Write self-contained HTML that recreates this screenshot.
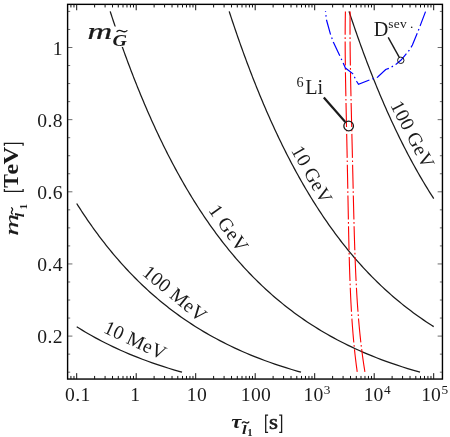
<!DOCTYPE html>
<html><head><meta charset="utf-8"><title>chart</title>
<style>html,body{margin:0;padding:0;background:#fff}body{width:450px;height:437px;overflow:hidden;font-family:"Liberation Serif",serif;position:relative}svg{position:absolute;left:0;top:0;will-change:transform}</style>
</head><body>
<svg width="450" height="437" viewBox="0 0 450 437" style="display:block;font-family:'Liberation Serif',serif">
<rect x="0" y="0" width="450" height="437" fill="#fff"/>
<path id="c10M" d="M76.71,326.76 L79.60,328.56 L82.56,330.36 L85.59,332.17 L88.69,333.97 L91.86,335.78 L95.12,337.58 L98.46,339.38 L101.89,341.19 L105.41,342.99 L109.03,344.79 L112.76,346.60 L116.60,348.40 L120.55,350.21 L124.63,352.01 L128.84,353.81 L133.19,355.62 L137.70,357.42 L142.37,359.22 L147.21,361.03 L152.24,362.83 L157.48,364.64 L162.94,366.44 L168.63,368.24 L174.59,370.05 L180.84,371.85 L182.00,372.18" fill="none" stroke="#1a1a1a" stroke-width="1.25"/>
<path id="c100M" d="M76.71,203.54 L77.85,205.35 L79.00,207.15 L80.17,208.95 L81.34,210.76 L82.53,212.56 L83.72,214.36 L84.93,216.17 L86.15,217.97 L87.38,219.78 L88.62,221.58 L89.88,223.38 L91.15,225.19 L92.42,226.99 L93.72,228.79 L95.02,230.60 L96.34,232.40 L97.67,234.21 L99.02,236.01 L100.38,237.81 L101.75,239.62 L103.14,241.42 L104.55,243.22 L105.97,245.03 L107.40,246.83 L108.86,248.64 L110.32,250.44 L111.81,252.24 L113.31,254.05 L114.83,255.85 L116.37,257.65 L117.93,259.46 L119.50,261.26 L121.10,263.07 L122.71,264.87 L124.35,266.67 L126.01,268.48 L127.68,270.28 L129.38,272.08 L131.11,273.89 L132.85,275.69 L134.62,277.50 L136.42,279.30 L138.24,281.10 L140.08,282.91 L141.96,284.71 L143.86,286.51 L145.79,288.32 L147.74,290.12 L149.73,291.93 L151.75,293.73 L153.80,295.53 L155.89,297.34 L158.01,299.14 L160.16,300.94 L162.35,302.75 L164.58,304.55 L166.84,306.36 L169.15,308.16 L171.50,309.96 L173.90,311.77 L176.33,313.57 L178.82,315.37 L181.35,317.18 L183.94,318.98 L186.57,320.79 L189.27,322.59 L192.02,324.39 L194.83,326.20 L197.70,328.00 L200.64,329.80 L203.64,331.61 L206.72,333.41 L209.87,335.22 L213.10,337.02 L216.42,338.82 L219.82,340.63 L223.31,342.43 L226.90,344.23 L230.59,346.04 L234.39,347.84 L238.31,349.65 L242.35,351.45 L246.52,353.25 L250.83,355.06 L255.29,356.86 L259.90,358.66 L264.69,360.47 L269.66,362.27 L274.83,364.08 L280.22,365.88 L285.84,367.68 L291.72,369.49 L297.87,371.29 L301.00,372.18" fill="none" stroke="#1a1a1a" stroke-width="1.25"/>
<path id="c1G" d="M110.19,11.42 L110.77,13.23 L111.37,15.03 L111.96,16.84 L112.56,18.64 L113.16,20.44 L113.76,22.25 L114.36,24.05 L114.97,25.85 L115.58,27.66 L116.20,29.46 L116.81,31.27 L117.43,33.07 L118.06,34.87 L118.68,36.68 L119.31,38.48 L119.94,40.28 L120.58,42.09 L121.21,43.89 L121.86,45.70 L122.50,47.50 L123.15,49.30 L123.80,51.11 L124.45,52.91 L125.11,54.71 L125.77,56.52 L126.44,58.32 L127.10,60.13 L127.77,61.93 L128.45,63.73 L129.13,65.54 L129.81,67.34 L130.49,69.14 L131.18,70.95 L131.88,72.75 L132.57,74.56 L133.27,76.36 L133.98,78.16 L134.69,79.97 L135.40,81.77 L136.11,83.57 L136.83,85.38 L137.56,87.18 L138.28,88.99 L139.02,90.79 L139.75,92.59 L140.49,94.40 L141.24,96.20 L141.99,98.00 L142.74,99.81 L143.50,101.61 L144.26,103.42 L145.03,105.22 L145.80,107.02 L146.57,108.83 L147.36,110.63 L148.14,112.43 L148.93,114.24 L149.73,116.04 L150.53,117.85 L151.33,119.65 L152.14,121.45 L152.96,123.26 L153.78,125.06 L154.60,126.86 L155.43,128.67 L156.27,130.47 L157.11,132.28 L157.96,134.08 L158.81,135.88 L159.67,137.69 L160.53,139.49 L161.40,141.30 L162.28,143.10 L163.16,144.90 L164.05,146.71 L164.94,148.51 L165.84,150.31 L166.75,152.12 L167.66,153.92 L168.58,155.72 L169.51,157.53 L170.44,159.33 L171.38,161.14 L172.33,162.94 L173.28,164.74 L174.24,166.55 L175.21,168.35 L176.19,170.15 L177.17,171.96 L178.16,173.76 L179.16,175.57 L180.16,177.37 L181.17,179.17 L182.20,180.98 L183.23,182.78 L184.26,184.58 L185.31,186.39 L186.36,188.19 L187.43,190.00 L188.50,191.80 L189.58,193.60 L190.67,195.41 L191.77,197.21 L192.88,199.01 L194.00,200.82 L195.13,202.62 L196.27,204.43 L197.41,206.23 L198.57,208.03 L199.74,209.84 L200.92,211.64 L202.11,213.44 L203.32,215.25 L204.53,217.05 L205.75,218.86 L206.99,220.66 L208.24,222.46 L209.50,224.27 L210.77,226.07 L212.06,227.87 L213.36,229.68 L214.67,231.48 L215.99,233.29 L217.33,235.09 L218.68,236.89 L220.05,238.70 L221.43,240.50 L222.83,242.30 L224.24,244.11 L225.67,245.91 L227.11,247.72 L228.57,249.52 L230.05,251.32 L231.54,253.13 L233.05,254.93 L234.58,256.74 L236.13,258.54 L237.70,260.34 L239.28,262.15 L240.89,263.95 L242.51,265.75 L244.16,267.56 L245.83,269.36 L247.52,271.16 L249.23,272.97 L250.96,274.77 L252.72,276.58 L254.50,278.38 L256.31,280.18 L258.14,281.99 L260.00,283.79 L261.89,285.59 L263.80,287.40 L265.74,289.20 L267.72,291.01 L269.72,292.81 L271.75,294.61 L273.82,296.42 L275.92,298.22 L278.06,300.02 L280.23,301.83 L282.44,303.63 L284.68,305.44 L286.97,307.24 L289.30,309.04 L291.67,310.85 L294.09,312.65 L296.55,314.45 L299.06,316.26 L301.61,318.06 L304.22,319.87 L306.89,321.67 L309.61,323.47 L312.39,325.28 L315.23,327.08 L318.13,328.88 L321.10,330.69 L324.14,332.49 L327.26,334.30 L330.45,336.10 L333.72,337.90 L337.07,339.71 L340.52,341.51 L344.06,343.31 L347.70,345.12 L351.44,346.92 L355.30,348.73 L359.28,350.53 L363.38,352.33 L367.62,354.14 L372.00,355.94 L376.53,357.75 L381.23,359.55 L386.11,361.35 L391.18,363.16 L396.45,364.96 L401.95,366.76 L407.69,368.57 L413.71,370.37 L420.01,372.18" fill="none" stroke="#1a1a1a" stroke-width="1.25"/>
<path id="c10G" d="M229.19,11.42 L229.78,13.23 L230.37,15.03 L230.97,16.84 L231.57,18.64 L232.16,20.44 L232.77,22.25 L233.37,24.05 L233.98,25.85 L234.59,27.66 L235.21,29.46 L235.82,31.27 L236.44,33.07 L237.06,34.87 L237.69,36.68 L238.32,38.48 L238.95,40.28 L239.59,42.09 L240.22,43.89 L240.87,45.70 L241.51,47.50 L242.16,49.30 L242.81,51.11 L243.46,52.91 L244.12,54.71 L244.78,56.52 L245.45,58.32 L246.11,60.13 L246.79,61.93 L247.46,63.73 L248.14,65.54 L248.82,67.34 L249.51,69.14 L250.20,70.95 L250.89,72.75 L251.58,74.56 L252.29,76.36 L252.99,78.16 L253.70,79.97 L254.41,81.77 L255.13,83.57 L255.85,85.38 L256.57,87.18 L257.30,88.99 L258.03,90.79 L258.77,92.59 L259.51,94.40 L260.25,96.20 L261.00,98.00 L261.75,99.81 L262.51,101.61 L263.27,103.42 L264.04,105.22 L264.81,107.02 L265.59,108.83 L266.37,110.63 L267.16,112.43 L267.95,114.24 L268.74,116.04 L269.54,117.85 L270.35,119.65 L271.16,121.45 L271.97,123.26 L272.79,125.06 L273.62,126.86 L274.45,128.67 L275.29,130.47 L276.13,132.28 L276.98,134.08 L277.83,135.88 L278.69,137.69 L279.55,139.49 L280.42,141.30 L281.30,143.10 L282.18,144.90 L283.07,146.71 L283.96,148.51 L284.86,150.31 L285.77,152.12 L286.68,153.92 L287.60,155.72 L288.53,157.53 L289.46,159.33 L290.40,161.14 L291.35,162.94 L292.30,164.74 L293.27,166.55 L294.23,168.35 L295.21,170.15 L296.19,171.96 L297.18,173.76 L298.18,175.57 L299.19,177.37 L300.20,179.17 L301.22,180.98 L302.25,182.78 L303.29,184.58 L304.34,186.39 L305.39,188.19 L306.46,190.00 L307.53,191.80 L308.61,193.60 L309.70,195.41 L310.80,197.21 L311.91,199.01 L313.03,200.82 L314.16,202.62 L315.30,204.43 L316.45,206.23 L317.61,208.03 L318.78,209.84 L319.96,211.64 L321.15,213.44 L322.35,215.25 L323.56,217.05 L324.79,218.86 L326.03,220.66 L327.28,222.46 L328.54,224.27 L329.81,226.07 L331.10,227.87 L332.40,229.68 L333.71,231.48 L335.04,233.29 L336.38,235.09 L337.73,236.89 L339.10,238.70 L340.48,240.50 L341.88,242.30 L343.29,244.11 L344.72,245.91 L346.17,247.72 L347.63,249.52 L349.10,251.32 L350.60,253.13 L352.11,254.93 L353.64,256.74 L355.19,258.54 L356.76,260.34 L358.35,262.15 L359.95,263.95 L361.58,265.75 L363.23,267.56 L364.90,269.36 L366.59,271.16 L368.30,272.97 L370.04,274.77 L371.80,276.58 L373.58,278.38 L375.39,280.18 L377.22,281.99 L379.09,283.79 L380.97,285.59 L382.89,287.40 L384.84,289.20 L386.81,291.01 L388.82,292.81 L390.86,294.61 L392.93,296.42 L395.03,298.22 L397.17,300.02 L399.35,301.83 L401.56,303.63 L403.81,305.44 L406.10,307.24 L408.44,309.04 L410.81,310.85 L413.23,312.65 L415.70,314.45 L418.21,316.26 L420.78,318.06 L423.40,319.87 L426.07,321.67 L428.79,323.47 L431.58,325.28 L433.68,326.61" fill="none" stroke="#1a1a1a" stroke-width="1.25"/>
<path id="c100G" d="M349.04,11.42 L349.64,13.23 L350.24,15.03 L350.84,16.84 L351.45,18.64 L352.05,20.44 L352.67,22.25 L353.28,24.05 L353.90,25.85 L354.52,27.66 L355.14,29.46 L355.76,31.27 L356.39,33.07 L357.02,34.87 L357.66,36.68 L358.30,38.48 L358.94,40.28 L359.58,42.09 L360.23,43.89 L360.88,45.70 L361.54,47.50 L362.20,49.30 L362.86,51.11 L363.52,52.91 L364.19,54.71 L364.86,56.52 L365.54,58.32 L366.22,60.13 L366.90,61.93 L367.59,63.73 L368.28,65.54 L368.97,67.34 L369.67,69.14 L370.37,70.95 L371.08,72.75 L371.79,74.56 L372.50,76.36 L373.22,78.16 L373.94,79.97 L374.67,81.77 L375.40,83.57 L376.13,85.38 L376.87,87.18 L377.61,88.99 L378.36,90.79 L379.11,92.59 L379.87,94.40 L380.63,96.20 L381.39,98.00 L382.16,99.81 L382.94,101.61 L383.72,103.42 L384.50,105.22 L385.29,107.02 L386.09,108.83 L386.88,110.63 L387.69,112.43 L388.50,114.24 L389.31,116.04 L390.13,117.85 L390.96,119.65 L391.79,121.45 L392.63,123.26 L393.47,125.06 L394.31,126.86 L395.17,128.67 L396.03,130.47 L396.89,132.28 L397.76,134.08 L398.64,135.88 L399.52,137.69 L400.41,139.49 L401.31,141.30 L402.21,143.10 L403.12,144.90 L404.03,146.71 L404.96,148.51 L405.89,150.31 L406.82,152.12 L407.76,153.92 L408.71,155.72 L409.67,157.53 L410.64,159.33 L411.61,161.14 L412.59,162.94 L413.58,164.74 L414.57,166.55 L415.57,168.35 L416.59,170.15 L417.61,171.96 L418.63,173.76 L419.67,175.57 L420.72,177.37 L421.77,179.17 L422.83,180.98 L423.91,182.78 L424.99,184.58 L426.08,186.39 L427.18,188.19 L428.29,190.00 L429.41,191.80 L430.54,193.60 L431.68,195.41 L432.84,197.21 L433.70,198.55" fill="none" stroke="#1a1a1a" stroke-width="1.25"/>
<rect x="86" y="26.5" width="43" height="20.4" fill="#fff"/>
<path d="M345.41,11.40 L345.38,13.21 L345.34,15.02 L345.31,16.83 L345.29,18.64 L345.26,20.46 L345.24,22.27 L345.22,24.08 L345.21,25.89 L345.19,27.70 L345.18,29.51 L345.17,31.32 L345.16,33.13 L345.16,34.94 L345.16,36.75 L345.16,38.57 L345.16,40.38 L345.16,42.19 L345.17,44.00 L345.17,45.81 L345.18,47.62 L345.19,49.43 L345.20,51.24 L345.22,53.05 L345.23,54.87 L345.25,56.68 L345.27,58.49 L345.29,60.30 L345.31,62.11 L345.33,63.92 L345.35,65.73 L345.38,67.54 L345.40,69.35 L345.43,71.16 L345.45,72.98 L345.48,74.79 L345.51,76.60 L345.54,78.41 L345.57,80.22 L345.60,82.03 L345.64,83.84 L345.67,85.65 L345.70,87.46 L345.74,89.28 L345.77,91.09 L345.81,92.90 L345.84,94.71 L345.88,96.52 L345.91,98.33 L345.95,100.14 L345.99,101.95 L346.03,103.76 L346.06,105.57 L346.10,107.39 L346.14,109.20 L346.18,111.01 L346.22,112.82 L346.26,114.63 L346.30,116.44 L346.34,118.25 L346.38,120.06 L346.41,121.87 L346.45,123.69 L346.49,125.50 L346.53,127.31 L346.57,129.12 L346.61,130.93 L346.65,132.74 L346.69,134.55 L346.73,136.36 L346.77,138.17 L346.81,139.98 L346.85,141.80 L346.88,143.61 L346.92,145.42 L346.96,147.23 L347.00,149.04 L347.04,150.85 L347.08,152.66 L347.11,154.47 L347.15,156.28 L347.19,158.10 L347.23,159.91 L347.26,161.72 L347.30,163.53 L347.34,165.34 L347.37,167.15 L347.41,168.96 L347.44,170.77 L347.48,172.58 L347.52,174.39 L347.55,176.21 L347.59,178.02 L347.62,179.83 L347.66,181.64 L347.69,183.45 L347.73,185.26 L347.76,187.07 L347.80,188.88 L347.83,190.69 L347.86,192.51 L347.90,194.32 L347.93,196.13 L347.97,197.94 L348.00,199.75 L348.04,201.56 L348.07,203.37 L348.10,205.18 L348.14,206.99 L348.17,208.81 L348.21,210.62 L348.24,212.43 L348.28,214.24 L348.31,216.05 L348.35,217.86 L348.38,219.67 L348.42,221.48 L348.46,223.29 L348.49,225.10 L348.53,226.92 L348.57,228.73 L348.60,230.54 L348.64,232.35 L348.68,234.16 L348.72,235.97 L348.76,237.78 L348.80,239.59 L348.84,241.40 L348.88,243.22 L348.93,245.03 L348.97,246.84 L349.01,248.65 L349.06,250.46 L349.10,252.27 L349.15,254.08 L349.20,255.89 L349.25,257.70 L349.30,259.51 L349.35,261.33 L349.40,263.14 L349.45,264.95 L349.51,266.76 L349.57,268.57 L349.62,270.38 L349.68,272.19 L349.74,274.00 L349.80,275.81 L349.87,277.63 L349.93,279.44 L350.00,281.25 L350.07,283.06 L350.14,284.87 L350.22,286.68 L350.29,288.49 L350.37,290.30 L350.45,292.11 L350.53,293.92 L350.61,295.74 L350.70,297.55 L350.79,299.36 L350.88,301.17 L350.97,302.98 L351.07,304.79 L351.17,306.60 L351.27,308.41 L351.37,310.22 L351.48,312.04 L351.59,313.85 L351.70,315.66 L351.82,317.47 L351.94,319.28 L352.06,321.09 L352.19,322.90 L352.32,324.71 L352.45,326.52 L352.59,328.33 L352.73,330.15 L352.87,331.96 L353.02,333.77 L353.18,335.58 L353.33,337.39 L353.49,339.20 L353.66,341.01 L353.83,342.82 L354.00,344.63 L354.18,346.45 L354.36,348.26 L354.55,350.07 L354.74,351.88 L354.94,353.69 L355.14,355.50 L355.35,357.31 L355.56,359.12 L355.78,360.93 L356.01,362.74 L356.23,364.56 L356.47,366.37 L356.71,368.18 L356.96,369.99 L357.21,371.80" fill="none" stroke="#ff0000" stroke-width="1.1" stroke-dasharray="24 2.6 1.6 2.6" stroke-dashoffset="0.7"/>
<path d="M350.13,11.40 L350.11,13.21 L350.09,15.02 L350.08,16.83 L350.06,18.64 L350.05,20.46 L350.04,22.27 L350.04,24.08 L350.03,25.89 L350.03,27.70 L350.03,29.51 L350.03,31.32 L350.03,33.13 L350.04,34.94 L350.05,36.75 L350.06,38.57 L350.07,40.38 L350.08,42.19 L350.09,44.00 L350.11,45.81 L350.13,47.62 L350.15,49.43 L350.17,51.24 L350.19,53.05 L350.21,54.87 L350.23,56.68 L350.26,58.49 L350.28,60.30 L350.31,62.11 L350.34,63.92 L350.37,65.73 L350.40,67.54 L350.43,69.35 L350.46,71.16 L350.50,72.98 L350.53,74.79 L350.57,76.60 L350.60,78.41 L350.64,80.22 L350.67,82.03 L350.71,83.84 L350.75,85.65 L350.79,87.46 L350.83,89.28 L350.87,91.09 L350.91,92.90 L350.95,94.71 L350.99,96.52 L351.03,98.33 L351.07,100.14 L351.11,101.95 L351.15,103.76 L351.19,105.57 L351.24,107.39 L351.28,109.20 L351.32,111.01 L351.37,112.82 L351.41,114.63 L351.45,116.44 L351.49,118.25 L351.54,120.06 L351.58,121.87 L351.63,123.69 L351.67,125.50 L351.71,127.31 L351.76,129.12 L351.80,130.93 L351.84,132.74 L351.89,134.55 L351.93,136.36 L351.97,138.17 L352.02,139.98 L352.06,141.80 L352.10,143.61 L352.15,145.42 L352.19,147.23 L352.23,149.04 L352.28,150.85 L352.32,152.66 L352.36,154.47 L352.40,156.28 L352.45,158.10 L352.49,159.91 L352.53,161.72 L352.57,163.53 L352.62,165.34 L352.66,167.15 L352.70,168.96 L352.74,170.77 L352.78,172.58 L352.83,174.39 L352.87,176.21 L352.91,178.02 L352.95,179.83 L353.00,181.64 L353.04,183.45 L353.08,185.26 L353.12,187.07 L353.16,188.88 L353.21,190.69 L353.25,192.51 L353.29,194.32 L353.33,196.13 L353.38,197.94 L353.42,199.75 L353.46,201.56 L353.51,203.37 L353.55,205.18 L353.60,206.99 L353.64,208.81 L353.68,210.62 L353.73,212.43 L353.78,214.24 L353.82,216.05 L353.87,217.86 L353.92,219.67 L353.96,221.48 L354.01,223.29 L354.06,225.10 L354.11,226.92 L354.16,228.73 L354.21,230.54 L354.26,232.35 L354.31,234.16 L354.37,235.97 L354.42,237.78 L354.47,239.59 L354.53,241.40 L354.59,243.22 L354.65,245.03 L354.70,246.84 L354.76,248.65 L354.83,250.46 L354.89,252.27 L354.95,254.08 L355.02,255.89 L355.08,257.70 L355.15,259.51 L355.22,261.33 L355.29,263.14 L355.36,264.95 L355.44,266.76 L355.51,268.57 L355.59,270.38 L355.67,272.19 L355.75,274.00 L355.83,275.81 L355.92,277.63 L356.01,279.44 L356.10,281.25 L356.19,283.06 L356.28,284.87 L356.38,286.68 L356.47,288.49 L356.58,290.30 L356.68,292.11 L356.78,293.92 L356.89,295.74 L357.00,297.55 L357.12,299.36 L357.24,301.17 L357.36,302.98 L357.48,304.79 L357.60,306.60 L357.73,308.41 L357.87,310.22 L358.00,312.04 L358.14,313.85 L358.28,315.66 L358.43,317.47 L358.58,319.28 L358.73,321.09 L358.89,322.90 L359.05,324.71 L359.22,326.52 L359.39,328.33 L359.56,330.15 L359.74,331.96 L359.92,333.77 L360.11,335.58 L360.30,337.39 L360.49,339.20 L360.69,341.01 L360.90,342.82 L361.11,344.63 L361.32,346.45 L361.54,348.26 L361.77,350.07 L362.00,351.88 L362.23,353.69 L362.47,355.50 L362.72,357.31 L362.97,359.12 L363.23,360.93 L363.49,362.74 L363.76,364.56 L364.04,366.37 L364.32,368.18 L364.61,369.99 L364.91,371.80" fill="none" stroke="#ff0000" stroke-width="1.1" stroke-dasharray="24 2.6 1.6 2.6" stroke-dashoffset="0.7"/>
<path d="M325.50,11.20 L326.40,19.60 L330.50,34.30 L333.30,42.00 L339.20,54.40 L343.30,63.30 L345.40,68.10 L352.70,73.60 L356.60,81.20 L358.50,84.20 L369.90,79.80 L377.50,77.30 L385.70,69.50 L389.80,68.10 L393.00,66.10 L396.40,64.00 L400.80,60.30 L405.00,55.30 L410.00,49.30 L412.40,45.00 L417.40,32.90 L420.20,25.60 L425.70,11.20" fill="none" stroke="#0000ff" stroke-width="1.2" stroke-dasharray="15.4 3.1 1.6 3.1" stroke-dashoffset="14.6"/>
<rect x="67.6" y="4.35" width="374.85" height="374.7" fill="none" stroke="#000" stroke-width="1.4"/>
<path d="M70.93,379.05 v-3.1 M70.93,4.35 v3.1 M73.98,379.05 v-3.1 M73.98,4.35 v3.1 M76.70,379.05 v-5.9 M76.70,4.35 v5.9 M94.61,379.05 v-3.1 M94.61,4.35 v3.1 M105.09,379.05 v-3.1 M105.09,4.35 v3.1 M112.52,379.05 v-3.1 M112.52,4.35 v3.1 M118.29,379.05 v-3.1 M118.29,4.35 v3.1 M123.00,379.05 v-3.1 M123.00,4.35 v3.1 M126.98,379.05 v-3.1 M126.98,4.35 v3.1 M130.43,379.05 v-3.1 M130.43,4.35 v3.1 M133.48,379.05 v-3.1 M133.48,4.35 v3.1 M136.20,379.05 v-5.9 M136.20,4.35 v5.9 M154.11,379.05 v-3.1 M154.11,4.35 v3.1 M164.59,379.05 v-3.1 M164.59,4.35 v3.1 M172.02,379.05 v-3.1 M172.02,4.35 v3.1 M177.79,379.05 v-3.1 M177.79,4.35 v3.1 M182.50,379.05 v-3.1 M182.50,4.35 v3.1 M186.48,379.05 v-3.1 M186.48,4.35 v3.1 M189.93,379.05 v-3.1 M189.93,4.35 v3.1 M192.98,379.05 v-3.1 M192.98,4.35 v3.1 M195.70,379.05 v-5.9 M195.70,4.35 v5.9 M213.61,379.05 v-3.1 M213.61,4.35 v3.1 M224.09,379.05 v-3.1 M224.09,4.35 v3.1 M231.52,379.05 v-3.1 M231.52,4.35 v3.1 M237.29,379.05 v-3.1 M237.29,4.35 v3.1 M242.00,379.05 v-3.1 M242.00,4.35 v3.1 M245.98,379.05 v-3.1 M245.98,4.35 v3.1 M249.43,379.05 v-3.1 M249.43,4.35 v3.1 M252.48,379.05 v-3.1 M252.48,4.35 v3.1 M255.20,379.05 v-5.9 M255.20,4.35 v5.9 M273.11,379.05 v-3.1 M273.11,4.35 v3.1 M283.59,379.05 v-3.1 M283.59,4.35 v3.1 M291.02,379.05 v-3.1 M291.02,4.35 v3.1 M296.79,379.05 v-3.1 M296.79,4.35 v3.1 M301.50,379.05 v-3.1 M301.50,4.35 v3.1 M305.48,379.05 v-3.1 M305.48,4.35 v3.1 M308.93,379.05 v-3.1 M308.93,4.35 v3.1 M311.98,379.05 v-3.1 M311.98,4.35 v3.1 M314.70,379.05 v-5.9 M314.70,4.35 v5.9 M332.61,379.05 v-3.1 M332.61,4.35 v3.1 M343.09,379.05 v-3.1 M343.09,4.35 v3.1 M350.52,379.05 v-3.1 M350.52,4.35 v3.1 M356.29,379.05 v-3.1 M356.29,4.35 v3.1 M361.00,379.05 v-3.1 M361.00,4.35 v3.1 M364.98,379.05 v-3.1 M364.98,4.35 v3.1 M368.43,379.05 v-3.1 M368.43,4.35 v3.1 M371.48,379.05 v-3.1 M371.48,4.35 v3.1 M374.20,379.05 v-5.9 M374.20,4.35 v5.9 M392.11,379.05 v-3.1 M392.11,4.35 v3.1 M402.59,379.05 v-3.1 M402.59,4.35 v3.1 M410.02,379.05 v-3.1 M410.02,4.35 v3.1 M415.79,379.05 v-3.1 M415.79,4.35 v3.1 M420.50,379.05 v-3.1 M420.50,4.35 v3.1 M424.48,379.05 v-3.1 M424.48,4.35 v3.1 M427.93,379.05 v-3.1 M427.93,4.35 v3.1 M430.98,379.05 v-3.1 M430.98,4.35 v3.1 M433.70,379.05 v-5.9 M433.70,4.35 v5.9" fill="none" stroke="#111" stroke-width="1.0"/>
<path d="M67.6,372.18 h2.6 M442.45,372.18 h-2.6 M67.6,354.14 h2.6 M442.45,354.14 h-2.6 M67.6,336.10 h4.8 M442.45,336.10 h-4.8 M67.6,318.06 h2.6 M442.45,318.06 h-2.6 M67.6,300.02 h2.6 M442.45,300.02 h-2.6 M67.6,281.99 h2.6 M442.45,281.99 h-2.6 M67.6,263.95 h4.8 M442.45,263.95 h-4.8 M67.6,245.91 h2.6 M442.45,245.91 h-2.6 M67.6,227.88 h2.6 M442.45,227.88 h-2.6 M67.6,209.84 h2.6 M442.45,209.84 h-2.6 M67.6,191.80 h4.8 M442.45,191.80 h-4.8 M67.6,173.76 h2.6 M442.45,173.76 h-2.6 M67.6,155.73 h2.6 M442.45,155.73 h-2.6 M67.6,137.69 h2.6 M442.45,137.69 h-2.6 M67.6,119.65 h4.8 M442.45,119.65 h-4.8 M67.6,101.61 h2.6 M442.45,101.61 h-2.6 M67.6,83.57 h2.6 M442.45,83.57 h-2.6 M67.6,65.54 h2.6 M442.45,65.54 h-2.6 M67.6,47.50 h4.8 M442.45,47.50 h-4.8 M67.6,29.46 h2.6 M442.45,29.46 h-2.6 M67.6,11.42 h2.6 M442.45,11.42 h-2.6" fill="none" stroke="#1a1a1a" stroke-width="0.65"/>
<g font-size="19.6" fill="#1a1a1a">
<text x="62.9" y="54.50" text-anchor="end" letter-spacing="0.4">1</text>
<text x="62.9" y="126.65" text-anchor="end" letter-spacing="0.4">0.8</text>
<text x="62.9" y="198.80" text-anchor="end" letter-spacing="0.4">0.6</text>
<text x="62.9" y="270.95" text-anchor="end" letter-spacing="0.4">0.4</text>
<text x="62.9" y="343.10" text-anchor="end" letter-spacing="0.4">0.2</text>
<text x="77.80" y="401.0" text-anchor="middle" letter-spacing="0.35">0.1</text>
<text x="135.30" y="401.0" text-anchor="middle" letter-spacing="0.35">1</text>
<text x="196.90" y="401.0" text-anchor="middle" letter-spacing="0.35">10</text>
<text x="256.00" y="401.0" text-anchor="middle" letter-spacing="0.35">100</text>
<text x="303.60" y="401.0">10<tspan font-size="13.3" dx="0.6" dy="-7.2">3</tspan></text>
<text x="363.80" y="401.0">10<tspan font-size="13.3" dx="0.6" dy="-7.2">4</tspan></text>
<text x="421.30" y="401.0">10<tspan font-size="13.3" dx="0.6" dy="-7.2">5</tspan></text>
</g>
<text transform="translate(102.4,332.1) rotate(25)" font-size="19.6" fill="#1a1a1a" letter-spacing="0.25">10 MeV</text>
<text transform="translate(141.2,274.3) rotate(39.5)" font-size="19.6" fill="#1a1a1a" letter-spacing="0.25">100 MeV</text>
<text transform="translate(208.0,210.3) rotate(54.5)" font-size="19.6" fill="#1a1a1a" letter-spacing="0.25">1 GeV</text>
<text transform="translate(290.7,150.2) rotate(60.5)" font-size="19.6" fill="#1a1a1a" letter-spacing="0.25">10 GeV</text>
<text transform="translate(389.9,105.0) rotate(62.5)" font-size="19.6" fill="#1a1a1a" letter-spacing="0.25">100 GeV</text>
<line x1="323.8" y1="97.6" x2="345.3" y2="122" stroke="#1a1a1a" stroke-width="2.2"/>
<circle cx="348.65" cy="126" r="4.8" fill="none" stroke="#1a1a1a" stroke-width="1.3"/>
<text x="305.2" y="94" font-size="20.2" fill="#1a1a1a">Li</text>
<text x="296.6" y="87.2" font-size="14.2" fill="#1a1a1a">6</text>
<line x1="388.2" y1="37.4" x2="399.3" y2="57.4" stroke="#1a1a1a" stroke-width="1.4"/>
<circle cx="400.8" cy="60.3" r="3.2" fill="none" stroke="#1a1a1a" stroke-width="1"/>
<text x="373.8" y="35.5" font-size="20.2" fill="#1a1a1a">D</text>
<text x="388.2 393.8 399.9 410.0" y="28.4" font-size="13.4" fill="#1a1a1a">sev.</text>
<text transform="translate(87.5,38.6) scale(1.5,1)" font-size="22.8" font-style="italic" fill="#1a1a1a" stroke="#1a1a1a" stroke-width="0.25">m</text>
<text transform="translate(112.6,45.9) scale(1.25,1)" font-size="16.0" font-weight="bold" font-style="italic" fill="#1a1a1a">G</text>
<path d="M117.0,31.58 C118.50,30.06 120.50,30.30 122.00,31.10 S125.50,32.14 127.0,30.62" fill="none" stroke="#1a1a1a" stroke-width="1.3" stroke-linecap="round"/>
<text transform="translate(231.3,428.3) scale(1.15,1)" font-size="19.6" font-weight="bold" font-style="italic" fill="#1a1a1a">τ</text>
<text transform="translate(241.9,434.0) scale(1.25,1)" font-size="13.4" font-weight="bold" font-style="italic" fill="#1a1a1a">l</text>
<path d="M242.3,422.85 C243.29,421.42 244.61,421.65 245.60,422.40 S247.91,423.38 248.9,421.95" fill="none" stroke="#1a1a1a" stroke-width="1.3" stroke-linecap="round"/>
<text transform="translate(247.3,436.4) scale(1.15,1)" font-size="9.3" font-weight="bold" fill="#1a1a1a">1</text>
<path d="M268.1,415.2 H265.7 V432.3 H268.1 M279.2,415.2 H281.6 V432.3 H279.2" fill="none" stroke="#1a1a1a" stroke-width="1.3"/>
<text transform="translate(269.0,428.5) scale(1.15,1)" font-size="20" fill="#1a1a1a" stroke="#1a1a1a" stroke-width="0.55">s</text>
<g transform="translate(18.3,234.8) rotate(-90)">
<text transform="translate(-0.9,0) scale(1.54,1)" font-size="19.8" font-style="italic" fill="#1a1a1a" stroke="#1a1a1a" stroke-width="0.15">m</text>
<text transform="translate(17.6,5.9) scale(1.25,1)" font-size="12.6" font-weight="bold" font-style="italic" fill="#1a1a1a">l</text>
<path d="M20.8,-5.85 C21.73,-7.28 22.97,-7.05 23.90,-6.30 S26.07,-5.32 27.0,-6.75" fill="none" stroke="#1a1a1a" stroke-width="1.3" stroke-linecap="round"/>
<text transform="translate(25.3,8.8) scale(1.15,1)" font-size="9.8" font-weight="bold" fill="#1a1a1a">1</text>
<path d="M45.9,-13.9 H43.5 V4.8 H45.9 M89.0,-13.9 H91.4 V4.8 H89.0" fill="none" stroke="#1a1a1a" stroke-width="1.3"/>
<text transform="translate(47.0,0) scale(1.0,1)" font-size="20.5" font-weight="bold" fill="#1a1a1a">T</text>
<text transform="translate(60.2,0) scale(1.16,1)" font-size="20.5" font-weight="bold" fill="#1a1a1a">e</text>
<text transform="translate(70.4,0) scale(1.2,1)" font-size="20.5" font-weight="bold" fill="#1a1a1a">V</text>
</g>
</svg>
</body></html>
